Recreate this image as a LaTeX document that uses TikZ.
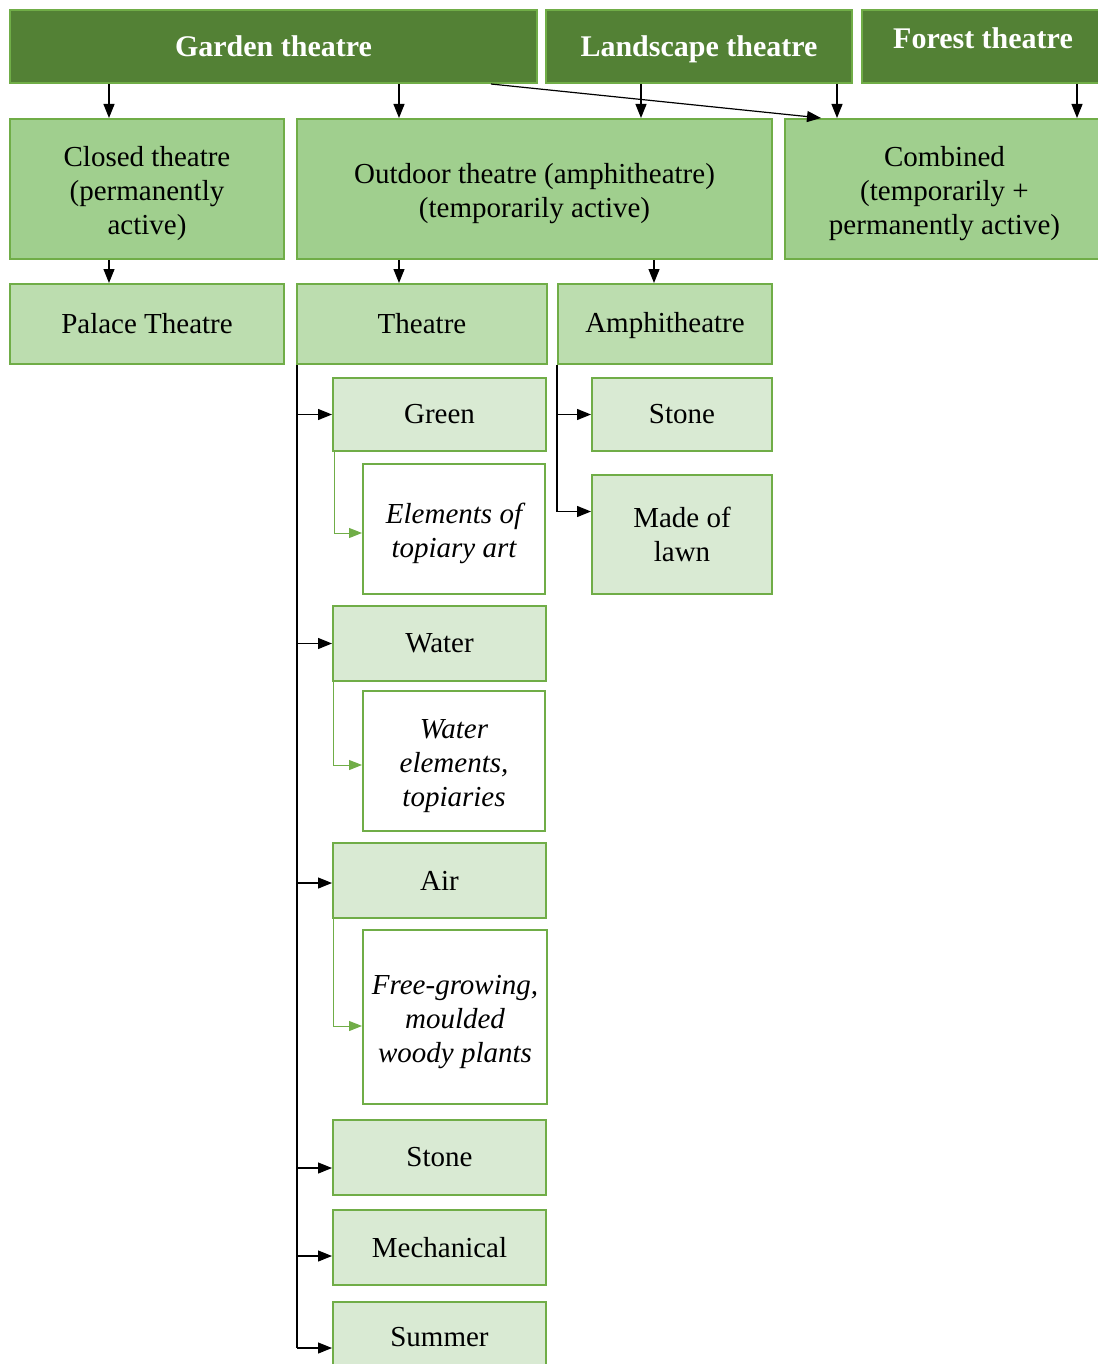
\documentclass[tikz,border=0pt]{standalone}
\usepackage{fontspec}
\setmainfont{Liberation Serif}
\usetikzlibrary{arrows.meta}
\definecolor{bord}{HTML}{70AD47}
\definecolor{dkgreen}{HTML}{538135}
\definecolor{midgreen}{HTML}{A0CF8E}
\definecolor{ltgreen}{HTML}{BCDDAF}
\definecolor{paleg}{HTML}{D9EAD3}
\newcommand\mybox[7]{\node[#6, minimum width={#4-#2}, minimum height={#5-#3}] (#1) at ({(#2+#4)/2},{(#3+#5)/2}) {#7};}
\newcommand\tallfirst{\rule{0pt}{30pt}}
\tikzset{
  basebox/.style={draw=bord, line width=2pt, inner sep=0pt, align=center, font=\fontsize{29}{34}\selectfont},
  topbox/.style={basebox, fill=dkgreen, text=white, font=\bfseries\fontsize{30}{34}\selectfont, text height=27pt, text depth=6pt},
  midbox/.style={basebox, fill=midgreen},
  lowbox/.style={basebox, fill=ltgreen},
  leafbox/.style={basebox, fill=paleg},
  notebox/.style={basebox, fill=white, font=\itshape\fontsize{29}{34}\selectfont},
  arr/.style={line width=1.2pt, -{Triangle[length=14pt,width=11pt]}},
  conn/.style={line width=1.2pt},
  garr/.style={draw=bord, line width=1pt, -{Triangle[length=13pt,width=10pt]}, bord},
}
\begin{document}
\begin{tikzpicture}[x=1pt,y=-1pt]
\useasboundingbox (0,0) rectangle (1097,1364);
% top row
\mybox{garden}{10}{10}{537}{83}{topbox}{Garden theatre}
\mybox{landscape}{546}{10}{852}{83}{topbox}{Landscape theatre}
\mybox{forest}{862}{10}{1104}{83}{topbox, text depth=22pt}{Forest theatre}
% second row
\mybox{closed}{10}{119}{284}{259}{midbox}{\tallfirst Closed theatre\\(permanently\\active)}
\mybox{outdoor}{297}{119}{772}{259}{midbox}{\tallfirst Outdoor theatre (amphitheatre)\\(temporarily active)}
\mybox{combined}{785}{119}{1104}{259}{midbox}{\tallfirst Combined\\(temporarily +\\permanently active)}
% third row
\mybox{palace}{10}{284}{284}{364}{lowbox}{Palace Theatre}
\mybox{theatre}{297}{284}{547}{364}{lowbox}{Theatre}
\mybox{amph}{558}{284}{772}{364}{lowbox, text height=20pt, text depth=3pt}{Amphitheatre}
% theatre children
\mybox{green}{333}{378}{546}{451}{leafbox}{Green}
\mybox{topiary}{363}{464}{545}{594}{notebox}{\tallfirst Elements of\\topiary art}
\mybox{water}{333}{606}{546}{681}{leafbox}{Water}
\mybox{waterel}{363}{691}{545}{831}{notebox}{\tallfirst Water\\elements,\\topiaries}
\mybox{air}{333}{843}{546}{918}{leafbox}{Air}
\mybox{free}{363}{930}{547}{1104}{notebox}{\tallfirst Free-growing,\\moulded\\woody plants}
\mybox{tstone}{333}{1120}{546}{1195}{leafbox}{Stone}
\mybox{mech}{333}{1210}{546}{1285}{leafbox}{Mechanical}
\mybox{summer}{333}{1302}{546}{1372}{leafbox}{Summer}
% amphitheatre children
\mybox{astone}{592}{378}{772}{451}{leafbox}{Stone}
\mybox{lawn}{592}{475}{772}{594}{leafbox}{Made of\\lawn}
% arrows top -> second row
\coordinate (c1) at ([xshift=100pt]closed.north west);
\coordinate (c2) at ([xshift=103pt]outdoor.north west);
\coordinate (c3) at ([xshift=345pt]outdoor.north west);
\coordinate (c4) at ([xshift=53pt]combined.north west);
\coordinate (c5) at ([xshift=293pt]combined.north west);
\coordinate (c6) at ([xshift=37pt]combined.north west);
\draw[arr] (garden.south -| c1) -- (c1);
\draw[arr] (garden.south -| c2) -- (c2);
\draw[arr] (landscape.south -| c3) -- (c3);
\draw[arr] (landscape.south -| c4) -- (c4);
\draw[arr] (forest.south -| c5) -- (c5);
\draw[arr] ([xshift=-47pt]garden.south east) -- (c6);
% second -> third row
\coordinate (d1) at ([xshift=100pt]palace.north west);
\coordinate (d2) at ([xshift=103pt]theatre.north west);
\coordinate (d3) at ([xshift=97pt]amph.north west);
\draw[arr] (closed.south -| d1) -- (d1);
\draw[arr] (outdoor.south -| d2) -- (d2);
\draw[arr] (outdoor.south -| d3) -- (d3);
% theatre tree
\coordinate (tv) at ([xshift=1pt]theatre.south west);
\coordinate (eair) at ([yshift=-2.5pt]air.west);
\coordinate (estone) at ([yshift=-10.5pt]tstone.west);
\coordinate (emech) at ([yshift=-8.5pt]mech.west);
\coordinate (tend) at ([yshift=-11pt]summer.west);
\draw[conn] (tv) -- (tv |- tend);
\draw[arr] (tv |- green.west) -- (green.west);
\draw[arr] (tv |- water.west) -- (water.west);
\draw[arr] (tv |- eair) -- (eair);
\draw[arr] (tv |- estone) -- (estone);
\draw[arr] (tv |- emech) -- (emech);
\draw[arr] (tv |- tend) -- (tend);
% green connectors
\coordinate (etop) at ([yshift=-4pt]topiary.west);
\coordinate (ewat) at ([yshift=-4pt]waterel.west);
\coordinate (efree) at ([yshift=-9pt]free.west);
\draw[garr] ([xshift=2pt]green.south west) |- (etop);
\draw[garr] ([xshift=1pt]water.south west) |- (ewat);
\draw[garr] ([xshift=1pt]air.south west) |- (efree);
% amphitheatre tree
\coordinate (av) at (amph.south west);
\coordinate (aend) at ([yshift=23pt]lawn.west);
\draw[conn] (av) -- (av |- aend);
\draw[arr] (av |- astone.west) -- (astone.west);
\draw[arr] (av |- aend) -- (aend);
\end{tikzpicture}
\end{document}
